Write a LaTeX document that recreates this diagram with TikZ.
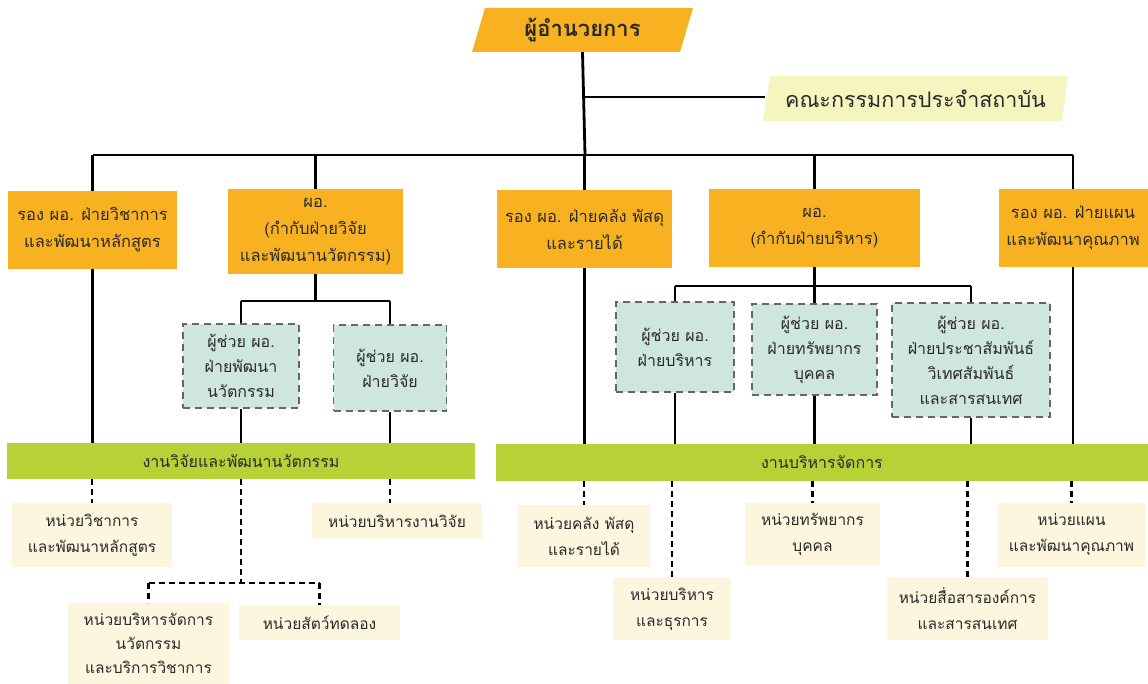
\documentclass[tikz,border=0pt]{standalone}
\usepackage{fontspec}
\newfontfamily\thai[Script=Thai]{Loma}
\definecolor{orgc}{HTML}{F8B120}
\definecolor{grnc}{HTML}{B6D236}
\definecolor{tealc}{HTML}{CFE6DC}
\definecolor{creamc}{HTML}{FCF6DE}
\definecolor{commc}{HTML}{F5F5BF}
\definecolor{txtc}{HTML}{2A2A2A}
\tikzset{
  base/.style={align=center, inner sep=0pt, text=txtc},
  lvlbox/.style={base, fill=orgc, font=\thai\fontsize{16.5}{27}\selectfont},
  asbox/.style={base, fill=tealc, draw=gray!80!black, line width=1.1pt, dash pattern=on 7pt off 5pt, font=\thai\fontsize{16}{25}\selectfont},
  barbox/.style={base, fill=grnc, font=\thai\fontsize{16}{20}\selectfont},
  unitbox/.style={base, fill=creamc, font=\thai\fontsize{15.5}{26}\selectfont},
  link/.style={line width=2.8pt, black},
  dlink/.style={line width=2.8pt, black, dash pattern=on 6pt off 4pt},
}
\begin{document}
\begin{tikzpicture}[x=1pt,y=-1pt]
\useasboundingbox (0,0) rectangle (1148,684);
% top director
\fill[orgc] (485,8) -- (693,8) -- (680,52) -- (472,52) -- cycle;
\node[base, minimum width=208, minimum height=44, font=\thai\bfseries\fontsize{22}{26}\selectfont] (dir) at (582.5,30) {ผู้อำนวยการ};
% committee
\fill[commc] (770,76) -- (1068,76) -- (1062,121) -- (763,121) -- cycle;
\node[base, minimum width=300, minimum height=45, font=\thai\fontsize{21.5}{26}\selectfont] (comm) at (915.5,98.5) {คณะกรรมการประจำสถาบัน};

% level 1
\node[lvlbox, minimum width=169, minimum height=78] (l1) at (92.5,230) {รอง ผอ. ฝ่ายวิชาการ\\และพัฒนาหลักสูตร};
\node[lvlbox, minimum width=175, minimum height=85] (l2) at (315.5,231.5) {ผอ.\\(กำกับฝ่ายวิจัย\\และพัฒนานวัตกรรม)};
\node[lvlbox, minimum width=175, minimum height=78] (l3) at (584.5,229) {รอง ผอ. ฝ่ายคลัง พัสดุ\\และรายได้};
\node[lvlbox, minimum width=211, minimum height=78] (l4) at (814.5,228) {ผอ.\\(กำกับฝ่ายบริหาร)};
\node[lvlbox, minimum width=149, minimum height=78] (l5) at (1073,228) {รอง ผอ. ฝ่ายแผน\\และพัฒนาคุณภาพ};

% assistants
\node[asbox, minimum width=116, minimum height=84] (a1) at (241,366) {ผู้ช่วย ผอ.\\ฝ่ายพัฒนา\\นวัตกรรม};
\node[asbox, minimum width=113, minimum height=86] (a2) at (390,368) {ผู้ช่วย ผอ.\\ฝ่ายวิจัย};
\node[asbox, minimum width=118, minimum height=90] (b1) at (675,347) {ผู้ช่วย ผอ.\\ฝ่ายบริหาร};
\node[asbox, minimum width=125, minimum height=91] (b2) at (814.5,349.5) {ผู้ช่วย ผอ.\\ฝ่ายทรัพยากร\\บุคคล};
\node[asbox, minimum width=158, minimum height=114] (b3) at (971,360) {ผู้ช่วย ผอ.\\ฝ่ายประชาสัมพันธ์\\วิเทศสัมพันธ์\\และสารสนเทศ};

% bars
\node[barbox, minimum width=468, minimum height=36] (bar1) at (241,461) {งานวิจัยและพัฒนานวัตกรรม};
\node[barbox, minimum width=652, minimum height=37] (bar2) at (822,462.5) {งานบริหารจัดการ};

% units
\node[unitbox, minimum width=160, minimum height=64] (u1) at (92,535) {หน่วยวิชาการ\\และพัฒนาหลักสูตร};
\node[unitbox, minimum width=170, minimum height=36] (u2) at (397,521) {หน่วยบริหารงานวิจัย};
\node[unitbox, minimum width=161, minimum height=81, anchor=north, font=\thai\fontsize{15.5}{24}\selectfont] (u3) at (148.5,603) {หน่วยบริหารจัดการ\\นวัตกรรม\\และบริการวิชาการ};
\node[unitbox, minimum width=161, minimum height=35] (u4) at (319.5,622.5) {หน่วยสัตว์ทดลอง};
\node[unitbox, minimum width=132, minimum height=62] (u5) at (584,536) {หน่วยคลัง พัสดุ\\และรายได้};
\node[unitbox, minimum width=118, minimum height=62] (u6) at (672,609) {หน่วยบริหาร\\และธุรการ};
\node[unitbox, minimum width=135, minimum height=62] (u7) at (812.5,534) {หน่วยทรัพยากร\\บุคคล};
\node[unitbox, minimum width=161, minimum height=62] (u8) at (967.5,609) {หน่วยสื่อสารองค์การ\\และสารสนเทศ};
\node[unitbox, minimum width=147, minimum height=64] (u9) at (1071.5,535) {หน่วยแผน\\และพัฒนาคุณภาพ};

% solid connectors
\coordinate (bus) at (585,155);
\coordinate (cj) at (585,97);
\draw[link] (dir.south) -- (bus);
\draw[link] (cj) -- (comm.west |- cj);
\draw[link] (l1.north |- bus) -- (l5.north |- bus);
\foreach \n in {l1,l2,l3,l4,l5} \draw[link] (\n.north |- bus) -- (\n.north);
\coordinate (ja) at (315.5,301);
\draw[link] (l2.south) -- (ja);
\draw[link] (a1.north |- ja) -- (a2.north |- ja);
\draw[link] (a1.north |- ja) -- (a1.north);
\draw[link] (a2.north |- ja) -- (a2.north);
\coordinate (jb) at (814.5,286);
\draw[link] (l4.south) -- (b2.north);
\draw[link] (b1.north |- jb) -- (b3.north |- jb);
\draw[link] (b1.north |- jb) -- (b1.north);
\draw[link] (b3.north |- jb) -- (b3.north);
\draw[link] (l1.south) -- (l1.south |- bar1.north);
\draw[link] (a1.south) -- (a1.south |- bar1.north);
\draw[link] (a2.south) -- (a2.south |- bar1.north);
\draw[link] (l3.south) -- (l3.south |- bar2.north);
\draw[link] (b1.south) -- (b1.south |- bar2.north);
\draw[link] (b2.south) -- (b2.south |- bar2.north);
\draw[link] (b3.south) -- (b3.south |- bar2.north);
\draw[link] (l5.south) -- (l5.south |- bar2.north);

% dashed connectors
\draw[dlink] (bar1.south -| u1.north) -- (u1.north);
\draw[dlink] (bar1.south -| a2.south) -- (a2.south |- u2.north);
\coordinate (sp) at (241,583);
\draw[dlink] (bar1.south -| sp) -- (sp);
\draw[dlink] (u3.north |- sp) -- (u4.north |- sp);
\draw[dlink] (u3.north |- sp) -- (u3.north);
\draw[dlink] (u4.north |- sp) -- (u4.north);
\draw[dlink] (bar2.south -| u5.north) -- (u5.north);
\draw[dlink] (bar2.south -| u6.north) -- (u6.north);
\draw[dlink] (bar2.south -| u7.north) -- (u7.north);
\draw[dlink] (bar2.south -| u8.north) -- (u8.north);
\draw[dlink] (bar2.south -| u9.north) -- (u9.north);
\end{tikzpicture}
\end{document}
